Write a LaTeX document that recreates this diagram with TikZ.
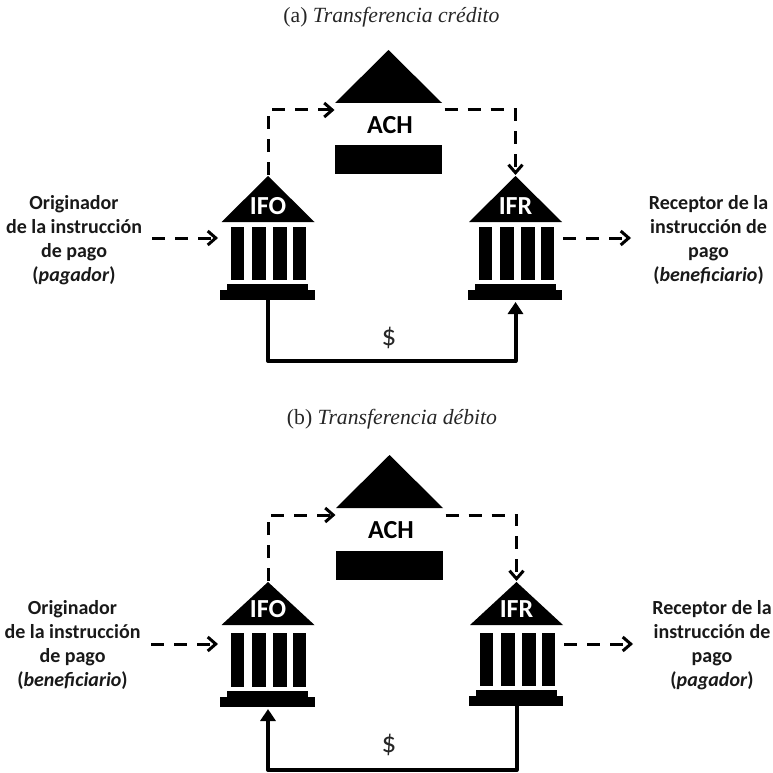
\documentclass[tikz,border=0pt]{standalone}
\usepackage{fontspec}
\setmainfont{Carlito}
\newfontfamily\titlefont{Liberation Serif}
\usetikzlibrary{arrows.meta}
\newcommand{\bankbuilding}[7]{% name, label, x apex, y apex, y roof base, y columns top, y columns bottom
  \begin{scope}[shift={(#3,0)}]
    \fill (0,#4) -- (-46.5,#5) -- (46.5,#5) -- cycle;
    \coordinate (#1top) at (0,{#4-1});
    \node[banklabel] (#1) at (0,{#5-15.5}) {#2};
    \foreach \a/\b in {-37/-24,-16/-2,5/19,25/38}
      \fill (\a,#6) rectangle (\b,#7);
    \fill (-41,{#7+4}) rectangle (40,{#7+10});
    \fill (-48,{#7+10}) rectangle (46.5,{#7+20});
    \coordinate (#1left) at (-50,{#6+11});
    \coordinate (#1bot) at (0,{#7+20});
    \coordinate (#1right) at (47.5,{#6+11});
    \coordinate (#1in) at (0,{#7+22});
  \end{scope}}
\newcommand{\achbuilding}[5]{% name, x apex, y apex, y roof base, y rect top
  \begin{scope}[shift={(#2,0)}]
    \fill (0,#3) -- (-53.5,#4) -- (53.5,#4) -- cycle;
    \fill (-53.5,#5) rectangle (53.5,{#5+28.5});
    \node[achlabel] (#1) at (1.5,{#4+22}) {ACH};
    \coordinate (#1in) at (-54,{#4+7});
    \coordinate (#1out) at (56,{#4+7});
  \end{scope}}
\tikzset{
  x=1pt,y=-1pt,
  banklabel/.style={text=white,font=\fontsize{26}{28}\selectfont\bfseries,inner sep=0pt},
  achlabel/.style={text=black,font=\fontsize{26}{28}\selectfont\bfseries,inner sep=0pt},
  sidelabel/.style={align=center,font=\fontsize{20}{24}\selectfont\bfseries,inner sep=0pt,text=black!90},
  titlelabel/.style={font=\fontsize{21.7}{24}\selectfont\titlefont,inner sep=0pt,text=black!85},
  moneylabel/.style={font=\fontsize{29}{30}\selectfont,inner sep=0pt,text=black!85},
  dashline/.style={line width=3pt,dash pattern=on 13pt off 10pt,-{Straight Barb[length=8pt,width=14pt,line width=3pt]}},
  moneyline/.style={line width=4pt,line join=round,-{Triangle[length=12pt,width=15pt]}},
}
\begin{document}
\begin{tikzpicture}
\useasboundingbox (0,0) rectangle (772,773);
% (a)
\node[titlelabel] (ta) at (391.5,17) {(a) \textit{Transferencia crédito}};
\achbuilding{acha}{388.5}{50}{103}{145}
\bankbuilding{ifoa}{IFO}{268}{176}{222}{227}{280}
\bankbuilding{ifra}{IFR}{515.5}{176}{222}{227}{280}
\coordinate (srca) at (152,238);
\coordinate (dsta) at (631,238);
\node[sidelabel] (oa) at (74,240) {Originador\\de la instrucción\\de pago\\(\textit{pagador})};
\node[sidelabel] (ra) at (708.5,240) {Receptor de la\\instrucción de\\pago\\(\textit{beneficiario})};
\node[moneylabel] (ma) at (389,338) {\$};
\draw[dashline] (ifoatop) |- (achain);
\draw[dashline] (achaout) -| (ifratop);
\draw[dashline] (srca) -- (ifoaleft);
\draw[dashline] (ifraright) -- (dsta);
\draw[moneyline] (ifoabot) -- ++(0,61) -| (ifrain);
% (b)
\node[titlelabel] (tb) at (392,419) {(b) \textit{Transferencia débito}};
\achbuilding{achb}{389.5}{455}{508}{551}
\bankbuilding{ifob}{IFO}{268}{582}{625}{633}{687}
\bankbuilding{ifrb}{IFR}{516.5}{582}{625}{633}{686}
\coordinate (srcb) at (151,644);
\coordinate (dstb) at (633,644);
\node[sidelabel] (ob) at (72.5,645) {Originador\\de la instrucción\\de pago\\(\textit{beneficiario})};
\node[sidelabel] (rb) at (712,645) {Receptor de la\\instrucción de\\pago\\(\textit{pagador})};
\node[moneylabel] (mb) at (389,745) {\$};
\draw[dashline] (ifobtop) |- (achbin);
\draw[dashline] (achbout) -| (ifrbtop);
\draw[dashline] (srcb) -- (ifobleft);
\draw[dashline] (ifrbright) -- (dstb);
\draw[moneyline] (ifrbbot) -- ++(0,64) -| (ifobin);
\end{tikzpicture}
\end{document}
